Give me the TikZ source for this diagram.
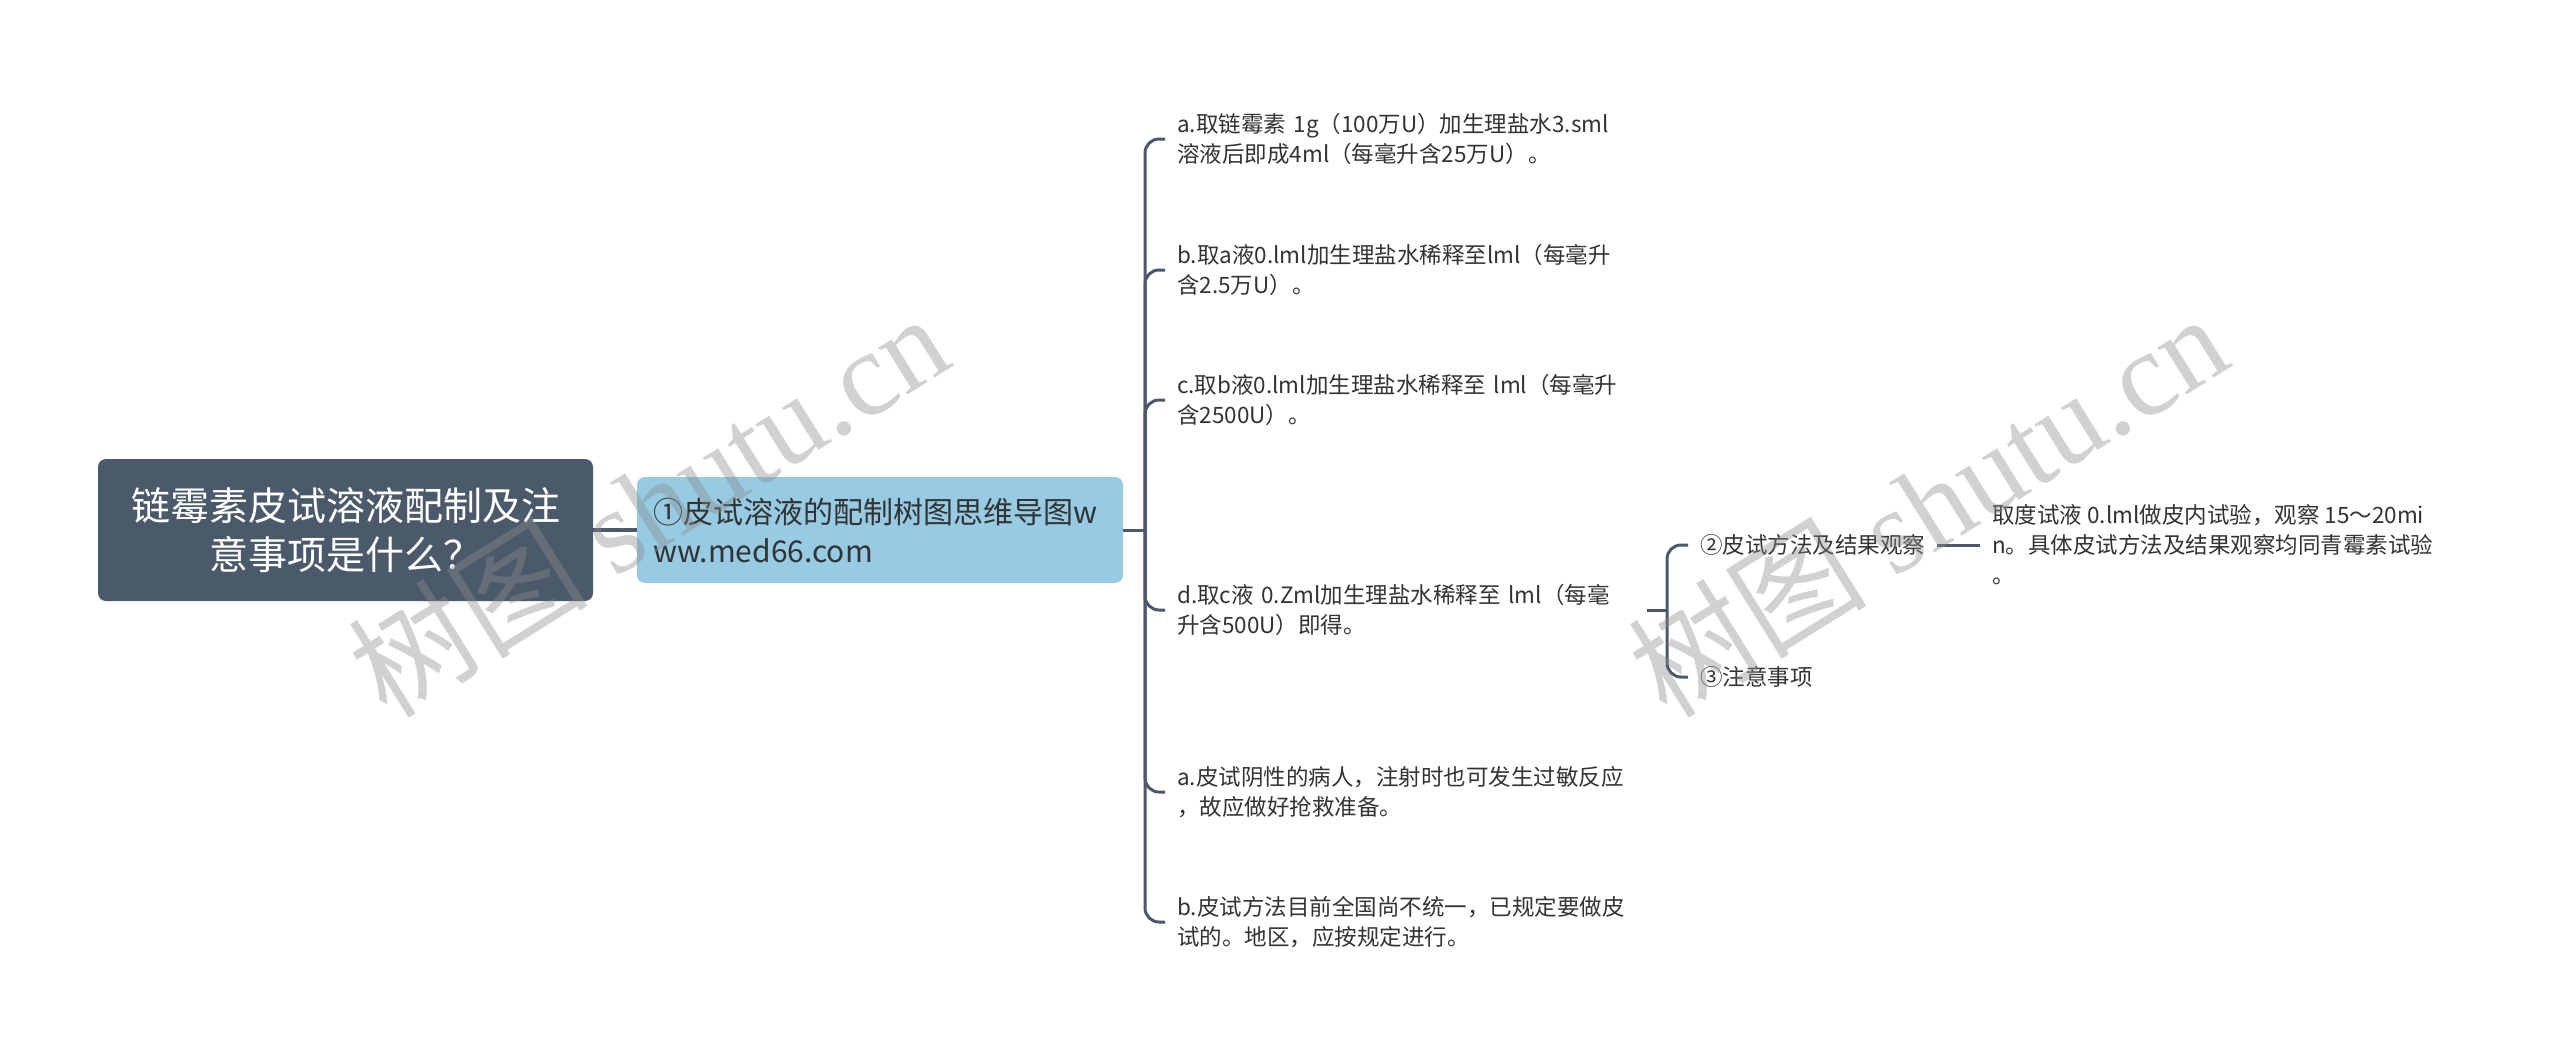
\documentclass[tikz,border=0pt]{standalone}
\usepackage{fontspec}
\setmainfont{Noto Sans CJK SC}
\newfontfamily\wmlatin{Liberation Serif}
\definecolor{dark}{HTML}{4B5A6A}
\definecolor{lblue}{HTML}{96CBE3}
\definecolor{txt}{HTML}{333333}
\definecolor{wm}{HTML}{8C8C8C}
\tikzset{
 conn/.style={draw=dark, line width=3pt, rounded corners=14pt},
 rootbox/.style={fill=dark, rounded corners=8pt, text=white, minimum width=495pt, minimum height=142pt, align=center, font=\fontsize{39}{49}\selectfont, inner sep=0pt},
 mainbox/.style={fill=lblue, rounded corners=8pt, text=txt, minimum width=486pt, minimum height=106pt, text width=454pt, align=left, font=\fontsize{30}{39}\selectfont, inner xsep=16pt},
 leaf/.style={anchor=west, text=txt, text width=458pt, align=left, inner xsep=12pt, inner ysep=4pt, font=\fontsize{22.5}{30}\selectfont},
 subleaf/.style={anchor=west, text=txt, align=left, inner xsep=12pt, inner ysep=4pt, font=\fontsize{22.5}{30}\selectfont},
 wmark/.style={text=wm, opacity=0.4, rotate=32, font=\fontsize{120}{120}\selectfont}
}
\begin{document}
\begin{tikzpicture}[x=1pt,y=-1pt]
\useasboundingbox[fill=white] (0,0) rectangle (2560,1061);

\node[rootbox] (root) at (345.5,530) {链霉素皮试溶液配制及注\\意事项是什么？};
\node[mainbox] (n1) at (880,530) {①皮试溶液的配制树图思维导图w\\ww.med66.com};

\node[leaf] (a) at (1165,139) {a.取链霉素 1g（100万U）加生理盐水3.sml\\溶液后即成4ml（每毫升含25万U）。};
\node[leaf] (b) at (1165,270) {b.取a液0.lml加生理盐水稀释至lml（每毫升\\含2.5万U）。};
\node[leaf] (c) at (1165,400) {c.取b液0.lml加生理盐水稀释至 lml（每毫升\\含2500U）。};
\node[leaf] (d) at (1165,610) {d.取c液 0.Zml加生理盐水稀释至 lml（每毫\\升含500U）即得。};
\node[leaf] (e) at (1165,792) {a.皮试阴性的病人，注射时也可发生过敏反应\\，故应做好抢救准备。};
\node[leaf] (f) at (1165,922) {b.皮试方法目前全国尚不统一，已规定要做皮\\试的。地区，应按规定进行。};

\node[subleaf] (s2) at (1688,545) {②皮试方法及结果观察};
\node[subleaf] (s3) at (1688,677) {③注意事项};
\node[subleaf] (lt) at (1980,545) {取度试液 0.lml做皮内试验，观察 15～20mi\\n。具体皮试方法及结果观察均同青霉素试验\\。};

\coordinate (j1) at (1145,530);
\coordinate (j2) at (1667,610);

\draw[conn, line width=3.5pt] (root.east) -- (n1.west);
\draw[conn] (n1.east) -- (j1);
\foreach \k in {a,b,c,d,e,f} { \draw[conn] (j1) |- (\k.west); }
\draw[conn] (d.east) -- (j2);
\draw[conn] (j2) |- (s2.west);
\draw[conn] (j2) |- (s3.west);
\draw[conn] (s2.east) -- (lt.west);

\node[wmark] (w1) at (648,504) {树图 {\wmlatin shutu.cn}};
\node[wmark] (w2) at (1927,504) {树图 {\wmlatin shutu.cn}};
\end{tikzpicture}
\end{document}
